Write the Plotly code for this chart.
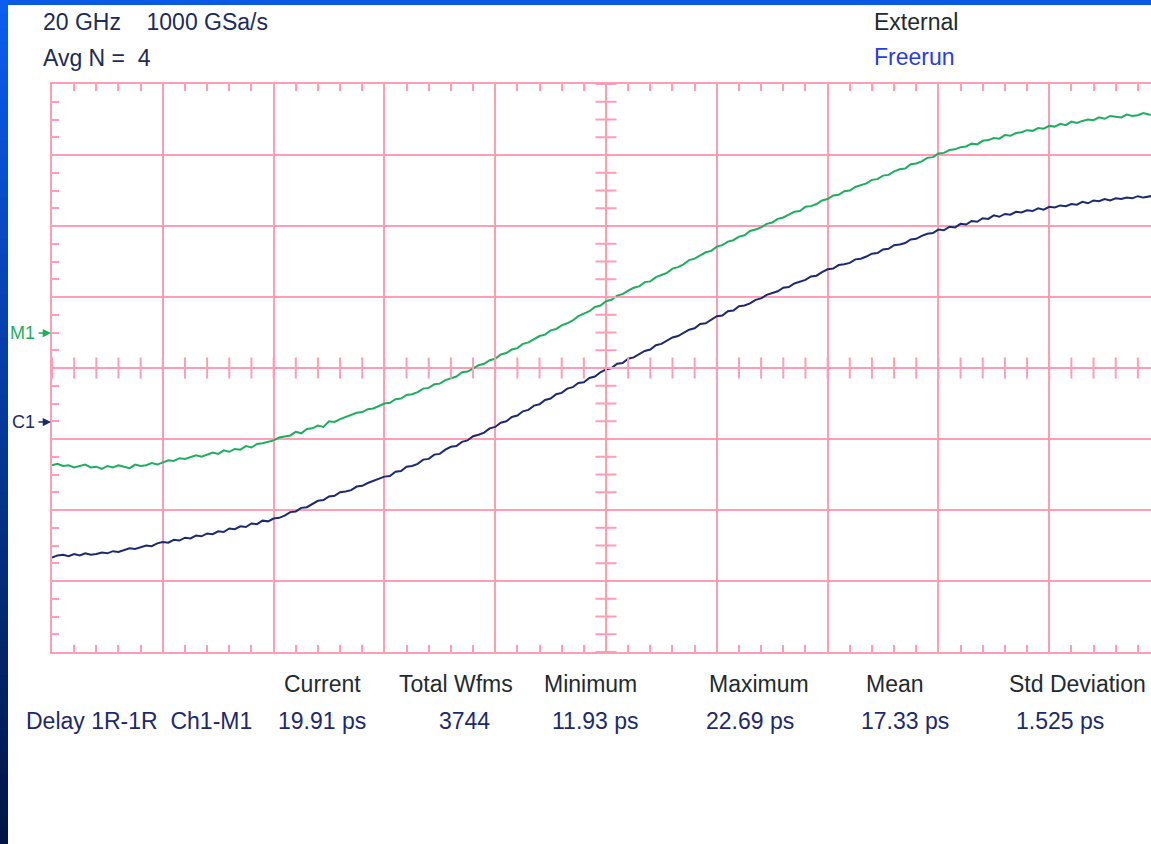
import numpy as np
import plotly.graph_objects as go

# Sample times in screen divisions (10 divisions across, 0.05 div per sample)
t_div = np.round(np.arange(0, 10.001, 0.05), 2)

# M1 (memory) trace, vertical position in divisions from the bottom
m1_trace = [
    2.63, 2.65, 2.62, 2.63, 2.60, 2.62, 2.64, 2.60, 2.61, 2.58, 2.62, 2.60, 2.63, 2.61, 2.59, 2.64, 2.62, 2.63, 2.66, 2.64,
    2.67, 2.70, 2.69, 2.73, 2.72, 2.74, 2.77, 2.75, 2.78, 2.81, 2.79, 2.84, 2.82, 2.86, 2.85, 2.90, 2.88, 2.93, 2.94, 2.96,
    2.98, 3.02, 3.03, 3.05, 3.10, 3.08, 3.14, 3.15, 3.19, 3.17, 3.25, 3.24, 3.28, 3.31, 3.33, 3.37, 3.38, 3.42, 3.43, 3.47,
    3.50, 3.51, 3.56, 3.57, 3.62, 3.63, 3.66, 3.71, 3.72, 3.77, 3.78, 3.83, 3.86, 3.88, 3.94, 3.95, 3.99, 4.04, 4.06, 4.11,
    4.13, 4.19, 4.21, 4.26, 4.28, 4.34, 4.36, 4.41, 4.45, 4.47, 4.53, 4.55, 4.60, 4.63, 4.67, 4.73, 4.76, 4.80, 4.86, 4.88,
    4.94, 4.96, 5.02, 5.04, 5.09, 5.13, 5.15, 5.21, 5.22, 5.28, 5.31, 5.34, 5.40, 5.42, 5.46, 5.52, 5.54, 5.58, 5.63, 5.65,
    5.71, 5.73, 5.78, 5.80, 5.85, 5.87, 5.93, 5.95, 5.98, 6.03, 6.05, 6.10, 6.12, 6.16, 6.20, 6.21, 6.27, 6.28, 6.31, 6.36,
    6.38, 6.43, 6.44, 6.49, 6.50, 6.55, 6.58, 6.60, 6.65, 6.66, 6.71, 6.72, 6.77, 6.80, 6.81, 6.87, 6.88, 6.91, 6.96, 6.97,
    7.02, 7.03, 7.07, 7.08, 7.11, 7.12, 7.16, 7.15, 7.20, 7.21, 7.24, 7.23, 7.28, 7.27, 7.31, 7.32, 7.35, 7.34, 7.38, 7.37,
    7.41, 7.40, 7.44, 7.42, 7.47, 7.45, 7.48, 7.50, 7.49, 7.53, 7.51, 7.55, 7.54, 7.53, 7.57, 7.55, 7.56, 7.59, 7.57, 7.56,
    7.58,
]

# C1 (channel 1) trace
c1_trace = [
    1.33, 1.36, 1.37, 1.35, 1.38, 1.36, 1.39, 1.37, 1.38, 1.40, 1.39, 1.42, 1.41, 1.44, 1.46, 1.45, 1.48, 1.50, 1.49, 1.53,
    1.55, 1.54, 1.58, 1.57, 1.61, 1.60, 1.64, 1.63, 1.67, 1.66, 1.70, 1.69, 1.74, 1.73, 1.77, 1.76, 1.81, 1.80, 1.85, 1.84,
    1.88, 1.89, 1.92, 1.97, 1.98, 2.03, 2.04, 2.09, 2.13, 2.14, 2.19, 2.20, 2.25, 2.26, 2.28, 2.33, 2.34, 2.38, 2.41, 2.44,
    2.47, 2.48, 2.54, 2.55, 2.61, 2.62, 2.65, 2.71, 2.72, 2.78, 2.79, 2.85, 2.89, 2.90, 2.96, 2.98, 3.04, 3.06, 3.09, 3.15,
    3.17, 3.23, 3.25, 3.31, 3.33, 3.39, 3.41, 3.47, 3.49, 3.55, 3.57, 3.63, 3.65, 3.71, 3.73, 3.79, 3.80, 3.86, 3.88, 3.94,
    3.98, 4.00, 4.06, 4.07, 4.13, 4.15, 4.19, 4.24, 4.26, 4.32, 4.34, 4.38, 4.43, 4.45, 4.49, 4.54, 4.56, 4.62, 4.63, 4.68,
    4.73, 4.74, 4.80, 4.81, 4.87, 4.88, 4.91, 4.96, 4.98, 5.03, 5.05, 5.08, 5.13, 5.14, 5.19, 5.21, 5.24, 5.29, 5.30, 5.35,
    5.39, 5.40, 5.45, 5.46, 5.48, 5.53, 5.54, 5.57, 5.61, 5.62, 5.67, 5.68, 5.73, 5.74, 5.76, 5.81, 5.82, 5.86, 5.89, 5.90,
    5.95, 5.94, 5.99, 5.98, 6.03, 6.02, 6.07, 6.06, 6.11, 6.10, 6.15, 6.13, 6.17, 6.16, 6.20, 6.19, 6.22, 6.21, 6.25, 6.23,
    6.27, 6.26, 6.29, 6.28, 6.31, 6.30, 6.34, 6.32, 6.36, 6.35, 6.38, 6.36, 6.39, 6.38, 6.40, 6.39, 6.42, 6.40, 6.41, 6.43,
    6.42,
]

# Measurement table
meas_headers = ["Current", "Total Wfms", "Minimum", "Maximum", "Mean", "Std Deviation"]
meas_values = ["19.91 ps", "3744", "11.93 ps", "22.69 ps", "17.33 ps", "1.525 ps"]
meas_name = "Delay 1R-1R&nbsp; Ch1-M1"

W, H = 1151, 844
L, R, T, B = 52, 1151, 84, 652
DIV_W = 110.8

GRID = "#ff9db4"
GREEN = "#1fae5e"
NAVY = "#1b2a6e"
DARK = "#1e2b2e"
FONT = "Liberation Sans, Arial, sans-serif"


def px(x):
    return (x - L) / (R - L)


def py(y):
    return (B - y) / (B - T)


fig = go.Figure()

fig.add_trace(go.Scatter(x=t_div, y=m1_trace, mode="lines",
                         line=dict(color=GREEN, width=2), hoverinfo="skip"))
fig.add_trace(go.Scatter(x=t_div, y=c1_trace, mode="lines",
                         line=dict(color=NAVY, width=2), hoverinfo="skip"))

# Crosshair minor ticks on the centre lines
cx = [round(0.2 * i, 2) for i in range(51)]
cy = [round(0.25 * i, 2) for i in range(33)]
fig.add_trace(go.Scatter(x=cx, y=[4] * len(cx), mode="markers",
                         marker=dict(symbol="line-ns", size=15,
                                     line=dict(color=GRID, width=2)),
                         hoverinfo="skip"))
fig.add_trace(go.Scatter(x=[5] * len(cy), y=cy, mode="markers",
                         marker=dict(symbol="line-ew", size=15,
                                     line=dict(color=GRID, width=2)),
                         hoverinfo="skip"))

shapes = []
# Window frame: blue top strip and left strip with vertical gradient
shapes.append(dict(type="rect", xref="paper", yref="paper",
                   x0=px(0), x1=px(W), y0=py(5), y1=py(0),
                   fillcolor="#0a5ae6", line=dict(width=0), layer="above"))
n_bands = 60
top_c = np.array([10, 94, 240])
bot_c = np.array([0, 22, 70])
for i in range(n_bands):
    f = i / (n_bands - 1)
    c = (top_c * (1 - f) + bot_c * f).astype(int)
    y0 = H * i / n_bands
    y1 = H * (i + 1) / n_bands + 1
    shapes.append(dict(type="rect", xref="paper", yref="paper",
                       x0=px(0), x1=px(8), y0=py(y1), y1=py(y0),
                       fillcolor=f"rgb({c[0]},{c[1]},{c[2]})",
                       line=dict(width=0), layer="above"))

annotations = []


def label(text, x, y, color, size=23, anchor="left"):
    annotations.append(dict(text=text, x=px(x), y=py(y), xref="paper", yref="paper",
                            xanchor=anchor, yanchor="middle", showarrow=False,
                            font=dict(family=FONT, size=size, color=color)))


def marker_arrow(y, color):
    # small pointer arrow touching the left edge of the graticule
    annotations.append(dict(text="", x=px(51), y=py(y), xref="paper", yref="paper",
                            ax=-14, ay=0, showarrow=True, arrowhead=2,
                            arrowsize=1.1, arrowwidth=1.5, arrowcolor=color))


label("20 GHz&nbsp;&nbsp;&nbsp; 1000 GSa/s", 41, 22, "#1c2b5a")
label("Avg N =&nbsp; 4", 41, 58, "#1c2b5a")
label("External", 872, 22, DARK)
label("Freerun", 872, 57, "#2a3ce6")
label("M1", 37, 333, GREEN, size=18, anchor="right")
label("C1", 37, 422, NAVY, size=18, anchor="right")
marker_arrow(333, GREEN)
marker_arrow(422, NAVY)

header_x = [322, 456, 590, 759, 895, 1077]
value_x = [322, 464, 595, 750, 905, 1060]
for h, xh in zip(meas_headers, header_x):
    label(h, xh, 684, DARK, anchor="center")
for v, xv in zip(meas_values, value_x):
    label(v, xv, 721, NAVY, anchor="center")
label(meas_name, 24, 721, NAVY)

axis_common = dict(showticklabels=False, zeroline=False, showgrid=True,
                   gridcolor=GRID, gridwidth=2, showline=True, linecolor=GRID,
                   linewidth=2, ticks="inside", tickcolor=GRID, tickwidth=2,
                   ticklen=7, fixedrange=True)

fig.update_layout(
    width=W, height=H,
    margin=dict(l=L, r=W - R, t=T, b=H - B, pad=0),
    paper_bgcolor="white", plot_bgcolor="white",
    showlegend=False,
    xaxis=dict(range=[0, (R - L) / DIV_W], dtick=1, tick0=0, mirror="allticks",
               minor=dict(dtick=0.2, tick0=0, ticks="inside", ticklen=7,
                          tickcolor=GRID, tickwidth=2, showgrid=False),
               **axis_common),
    yaxis=dict(range=[0, 8], dtick=1, tick0=0, mirror=False,
               minor=dict(dtick=0.25, tick0=0, ticks="inside", ticklen=7,
                          tickcolor=GRID, tickwidth=2, showgrid=False),
               **axis_common),
    shapes=shapes,
    annotations=annotations,
)

fig.write_html("out.html")
